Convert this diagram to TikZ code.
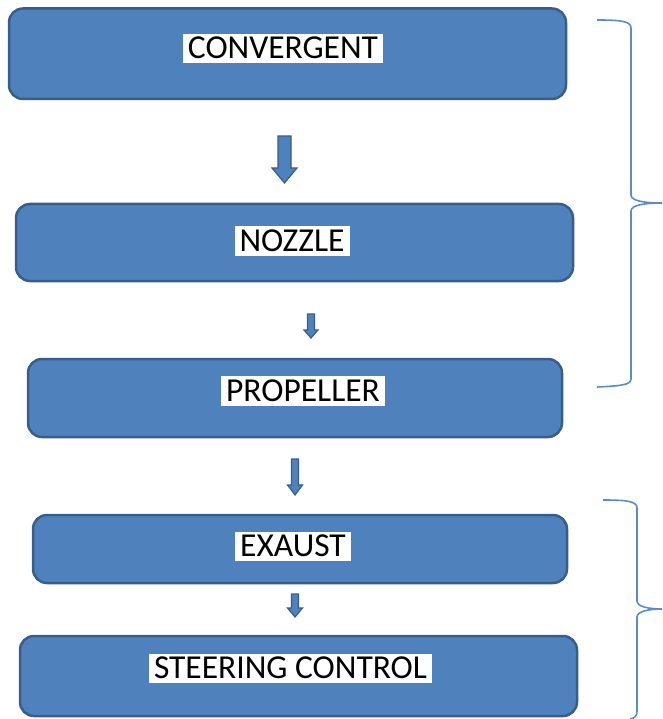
\documentclass[tikz,border=0pt]{standalone}
\usepackage{fontspec}
\setmainfont{Carlito}
\definecolor{boxfill}{HTML}{4F81BD}
\definecolor{boxline}{HTML}{385D8A}
\definecolor{bracecol}{HTML}{5B8BC9}
\tikzset{
  flowbox/.style={draw=boxline, line width=2.5pt, fill=boxfill, rounded corners=14pt, inner sep=0pt},
  flowlabel/.style={fill=white, inner xsep=5pt, inner ysep=0pt, text height=25pt, text depth=4.5pt, font=\fontsize{33.5}{38}\selectfont},
  fatarrow/.style={draw=boxline, line width=1.2pt, fill=boxfill, line join=miter},
  bracestyle/.style={draw=bracecol, line width=1.6pt}
}
\newcommand{\blockarrow}[6]{% x, ytop, yhead, ytip, shaft half, head half
  \path[fatarrow] (#1-#5,#2) -- (#1+#5,#2) -- (#1+#5,#3) -- (#1+#6,#3) -- (#1,#4) -- (#1-#6,#3) -- (#1-#5,#3) -- cycle;}
\begin{document}
\begin{tikzpicture}[x=1pt,y=-1pt]
\useasboundingbox (0,0) rectangle (662,719);
% boxes
\path[flowbox] (9,8.5) rectangle (566,99) node[pos=0.5] (b1) {};
\path[flowbox] (16,204) rectangle (573,281) node[pos=0.5] (b2) {};
\path[flowbox] (28,359) rectangle (562,437) node[pos=0.5] (b3) {};
\path[flowbox] (33,515) rectangle (567,583) node[pos=0.5] (b4) {};
\path[flowbox] (20,636) rectangle (577,716) node[pos=0.5] (b5) {};
% labels
\node[flowlabel] (l1) at (283,48.5) {CONVERGENT};
\node[flowlabel] (l2) at (292,241) {NOZZLE};
\node[flowlabel] (l3) at (303,391) {PROPELLER};
\node[flowlabel] (l4) at (293,546.5) {EXAUST};
\node[flowlabel] (l5) at (290.5,668.5) {STEERING CONTROL};
% arrows
\blockarrow{284.5}{136}{168}{183}{6.5}{12.5}
\blockarrow{311}{314}{330}{338}{3.5}{7}
\blockarrow{295}{459}{485}{495}{3.5}{7.5}
\blockarrow{295}{594}{608}{617}{3.5}{7.5}
% braces
\path[bracestyle] (597,20) .. controls (620,20) and (631,21) .. (631,28) -- (631,195)
  .. controls (631,201) and (645,203) .. (662,203);
\path[bracestyle] (662,203) .. controls (645,203) and (631,205) .. (631,211) -- (631,379)
  .. controls (631,385) and (620,386) .. (597,387);
\path[bracestyle] (603,500) .. controls (626,500) and (637,501) .. (637,508) -- (637,601)
  .. controls (637,607) and (650,609) .. (662,609);
\path[bracestyle] (662,609) .. controls (650,609) and (637,611) .. (637,617) -- (637,711)
  .. controls (637,716) and (635,718) .. (630,719);
\end{tikzpicture}
\end{document}
